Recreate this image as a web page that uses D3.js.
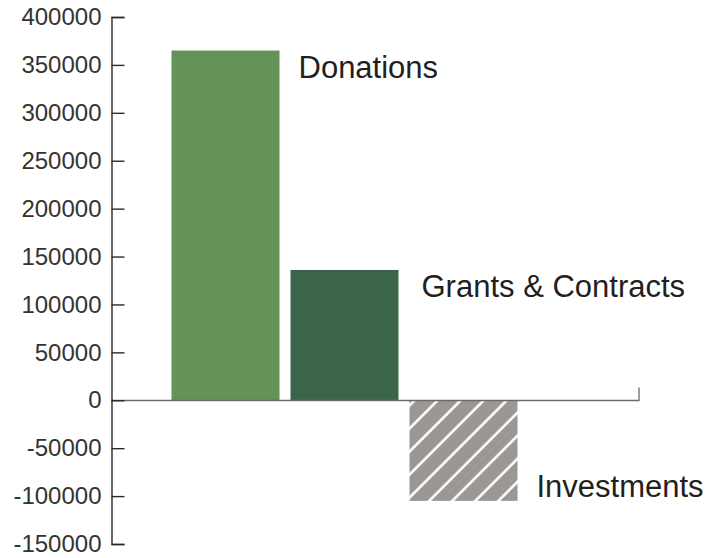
<!DOCTYPE html>
<html>
<head>
<meta charset="utf-8">
<script src="https://cdn.jsdelivr.net/npm/d3@7"></script>
<style>
  body { margin: 0; background: #fff; }
  svg { display: block; font-family: "Liberation Sans", Arial, Helvetica, sans-serif; }
</style>
</head>
<body>
<script>
// revenue sources
var categories = ['Donations', 'Grants & Contracts', 'Investments'];
var values = [365000, 136000, -105000];
var tickValues = [400000, 350000, 300000, 250000, 200000, 150000, 100000, 50000, 0, -50000, -100000, -150000];
var colors = ['#649357', '#3c644a', '#9b9894'];

var width = 711, height = 558;
var left = 111.5, right = 639;

var svg = d3.select('body').append('svg').attr('width', width).attr('height', height);

// hatch for the negative bar
var defs = svg.append('defs');
var pat = defs.append('pattern')
  .attr('id', 'hatch')
  .attr('patternUnits', 'userSpaceOnUse')
  .attr('width', 16.3).attr('height', 16.3)
  .attr('patternTransform', 'translate(6,0) rotate(45)');
pat.append('rect').attr('width', 16.3).attr('height', 16.3).attr('fill', colors[2]);
pat.append('line').attr('x1', 1.5).attr('y1', 0).attr('x2', 1.5).attr('y2', 16.3)
  .attr('stroke', '#fff').attr('stroke-width', 2.6);

var y = d3.scaleLinear().domain([-150000, 400000]).range([544, 17]);

var x = d3.scaleBand().domain(categories)
  .range([left + 60, left + 406])
  .paddingInner(11 / 119)
  .paddingOuter(0);

// bars
svg.selectAll('rect.bar').data(categories).enter().append('rect')
  .attr('class', 'bar')
  .attr('x', function(d) { return x(d); })
  .attr('width', x.bandwidth())
  .attr('y', function(d, i) { return y(Math.max(0, values[i])); })
  .attr('height', function(d, i) { return Math.abs(y(values[i]) - y(0)); })
  .attr('fill', function(d, i) { return values[i] < 0 ? 'url(#hatch)' : colors[i]; });

// zero line with a small end tick
var y0 = Math.round(y(0)) + 0.5;
svg.append('path')
  .attr('d', 'M' + left + ',' + y0 + 'H' + right + 'V' + (y0 - 13))
  .attr('fill', 'none').attr('stroke', '#6b6b6b').attr('stroke-width', 1.3);

// y axis, ticks point inward, plain hyphen for negatives
var yAxis = d3.axisLeft(y).tickValues(tickValues).tickSize(-13).tickPadding(10)
  .tickFormat(function(d) { return String(d); });
var gy = svg.append('g').attr('transform', 'translate(' + left + ',0)').call(yAxis);
gy.select('.domain').attr('stroke', '#2a2a2a').attr('stroke-width', 1.4);
gy.selectAll('.tick line').attr('stroke', '#2a2a2a').attr('stroke-width', 1.4);
gy.selectAll('.tick text').attr('fill', '#333').style('font-size', '24px')
  .style('font-family', '"Liberation Sans", Arial, sans-serif');

// category labels beside the bars
svg.selectAll('text.label').data(categories).enter().append('text')
  .attr('class', 'label')
  .attr('x', function(d) { return x(d) + x.bandwidth() + (d === 'Grants & Contracts' ? 23 : 19); })
  .attr('y', function(d, i) { return values[i] >= 0 ? y(values[i]) + 27 : y(values[i]) - 4; })
  .attr('fill', '#231f20')
  .style('font-size', '31px')
  .text(function(d) { return d; });
</script>
</body>
</html>
